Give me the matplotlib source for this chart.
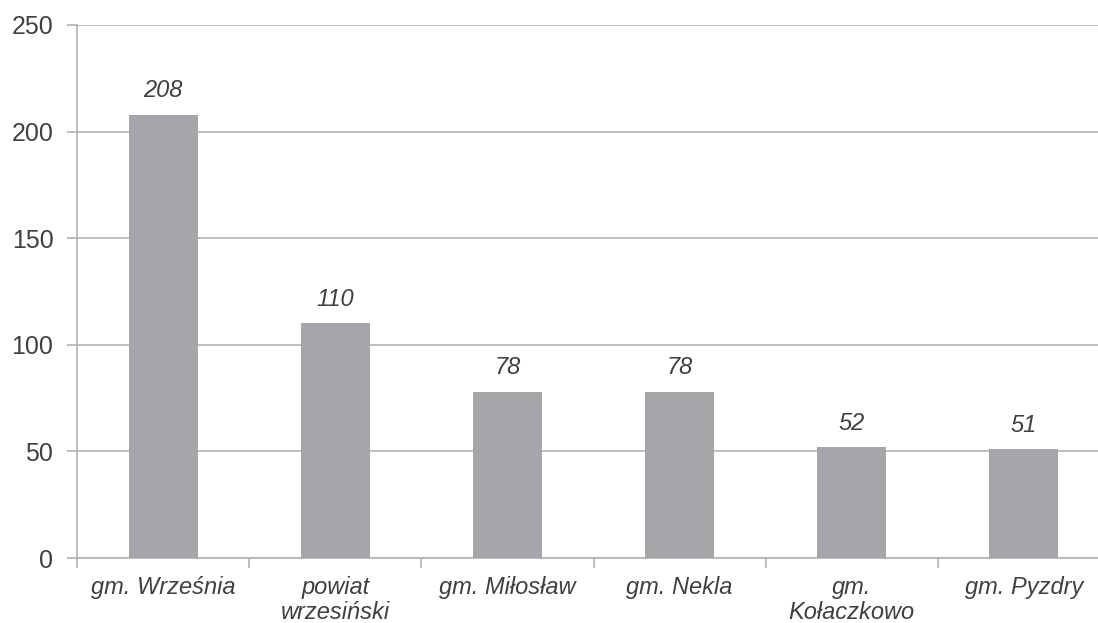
import matplotlib
matplotlib.use("Agg")
import matplotlib.pyplot as plt
import numpy as np

categories = ["gm. Września", "powiat\nwrzesiński", "gm. Miłosław", "gm. Nekla", "gm.\nKołaczkowo", "gm. Pyzdry"]
values = [208, 110, 78, 78, 52, 51]
yticks = [0, 50, 100, 150, 200, 250]

plt.rcParams['font.family'] = ['Liberation Sans', 'DejaVu Sans']

fig = plt.figure(figsize=(10.98, 6.23), dpi=100)
ax = fig.add_axes([77/1098, 1-558/623, 1033/1098, (558-25)/623])

x = np.arange(len(categories))
bar_color = '#A5A6A9'
text_color = '#404040'
grid_color = '#B3B3B3'

ax.bar(x, values, width=0.40, color=bar_color, zorder=3)
for xi, v in zip(x, values):
    ax.annotate(str(v), (xi, v), xytext=(0, 9), textcoords='offset points',
                ha='center', va='bottom', fontsize=17, style='italic', color=text_color)

ax.set_xlim(-0.5, len(categories) - 0.5)
ax.set_ylim(0, 250)
ax.set_yticks(yticks)
ax.set_yticklabels([str(t) for t in yticks], fontsize=18, color=text_color)
ax.yaxis.grid(True, color=grid_color, linewidth=1.2, zorder=0)
ax.tick_params(axis='y', length=7, color=grid_color, width=1.2, pad=10)

ax.set_xticks(x)
ax.set_xticklabels(categories, fontsize=17, style='italic', color=text_color, linespacing=1.1)
ax.tick_params(axis='x', length=0, pad=13)
ax.set_xticks(np.arange(len(categories) + 1) - 0.5, minor=True)
ax.tick_params(axis='x', which='minor', length=7, color=grid_color, width=1.2)

for s in ['top', 'right']:
    ax.spines[s].set_visible(False)
for s in ['left', 'bottom']:
    ax.spines[s].set_color(grid_color)
    ax.spines[s].set_linewidth(1.2)

fig.savefig("out.png", dpi=100)
